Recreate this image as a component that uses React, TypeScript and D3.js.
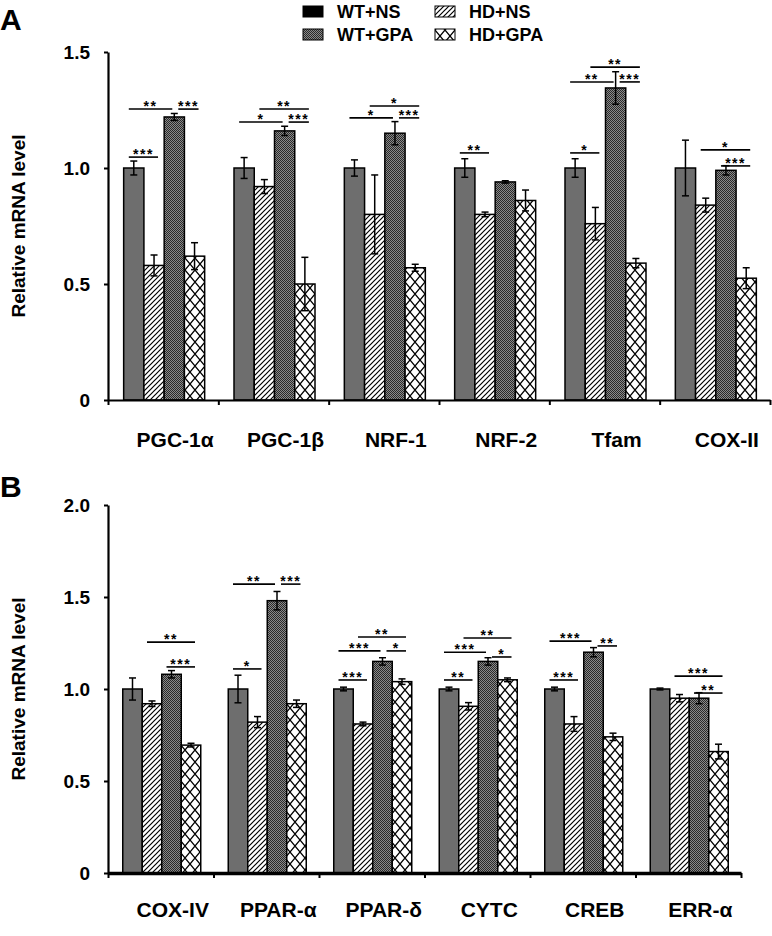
import React, { useEffect, useRef } from 'react';
import * as d3 from 'd3';

const seriesNames = ['WT+NS', 'HD+NS', 'WT+GPA', 'HD+GPA'];
const seriesFills = ['#6e6e6e', 'url(#hatch)', 'url(#dots)', 'url(#cross)'];
const legendFills = ['#000000', 'url(#hatch)', 'url(#dots)', 'url(#cross)'];
const legendRows = [['WT+NS', 'HD+NS'], ['WT+GPA', 'HD+GPA']];

// Panel A
const categoriesA = ['PGC-1α', 'PGC-1β', 'NRF-1', 'NRF-2', 'Tfam', 'COX-II'];
const wtnsA = [1.0, 1.0, 1.0, 1.0, 1.0, 1.0];
const hdnsA = [0.58, 0.92, 0.80, 0.80, 0.76, 0.84];
const wtgpaA = [1.22, 1.16, 1.15, 0.94, 1.345, 0.99];
const hdgpaA = [0.62, 0.50, 0.57, 0.86, 0.59, 0.525];
const wtnsErrA = [0.03, 0.045, 0.035, 0.04, 0.04, 0.12];
const hdnsErrA = [0.045, 0.03, 0.17, 0.01, 0.07, 0.03];
const wtgpaErrA = [0.015, 0.02, 0.05, 0.005, 0.07, 0.02];
const hdgpaErrA = [0.058, 0.115, 0.015, 0.045, 0.02, 0.045];
const ticksA = [0, 0.5, 1.0, 1.5];
// [category, fromSeries, toSeries, level, label]
const sigA: [number, number, number, number, string][] = [
  [0, 0, 1, 1.047, '***'], [0, 0, 2, 1.254, '**'], [0, 2, 3, 1.254, '***'],
  [1, 0, 2, 1.198, '*'], [1, 1, 3, 1.254, '**'], [1, 2, 3, 1.198, '***'],
  [2, 0, 2, 1.216, '*'], [2, 1, 3, 1.267, '*'], [2, 2, 3, 1.216, '***'],
  [3, 0, 1, 1.065, '**'],
  [4, 0, 1, 1.065, '*'], [4, 0, 2, 1.371, '**'], [4, 1, 3, 1.435, '**'], [4, 2, 3, 1.371, '***'],
  [5, 1, 3, 1.078, '*'], [5, 2, 3, 1.009, '***'],
];

// Panel B
const categoriesB = ['COX-IV', 'PPAR-α', 'PPAR-δ', 'CYTC', 'CREB', 'ERR-α'];
const wtnsB = [1.0, 1.0, 1.0, 1.0, 1.0, 1.0];
const hdnsB = [0.92, 0.82, 0.81, 0.906, 0.81, 0.95];
const wtgpaB = [1.08, 1.48, 1.15, 1.15, 1.20, 0.95];
const hdgpaB = [0.695, 0.92, 1.04, 1.05, 0.74, 0.66];
const wtnsErrB = [0.06, 0.075, 0.01, 0.01, 0.01, 0.005];
const hdnsErrB = [0.015, 0.03, 0.01, 0.02, 0.04, 0.02];
const wtgpaErrB = [0.02, 0.05, 0.02, 0.02, 0.025, 0.03];
const hdgpaErrB = [0.01, 0.02, 0.015, 0.01, 0.02, 0.04];
const ticksB = [0, 0.5, 1.0, 1.5, 2.0];
const sigB: [number, number, number, number, string][] = [
  [0, 1, 3, 1.255, '**'], [0, 2, 3, 1.12, '***'],
  [1, 0, 1, 1.109, '*'], [1, 0, 2, 1.57, '**'], [1, 2, 3, 1.57, '***'],
  [2, 0, 1, 1.049, '***'], [2, 0, 2, 1.207, '***'], [2, 1, 3, 1.283, '**'], [2, 2, 3, 1.207, '*'],
  [3, 0, 1, 1.049, '**'], [3, 0, 2, 1.20, '***'], [3, 1, 3, 1.277, '**'], [3, 2, 3, 1.174, '*'],
  [4, 0, 1, 1.049, '***'], [4, 0, 2, 1.26, '***'], [4, 2, 3, 1.234, '**'],
  [5, 1, 3, 1.07, '***'], [5, 2, 3, 0.978, '**'],
];

const FONT = "'Liberation Sans', Arial, sans-serif";

type PanelSpec = {
  letter: string;
  letterY: number;
  categories: string[];
  values: number[][];
  errors: number[][];
  ticks: number[];
  sig: [number, number, number, number, string][];
  yMax: number;
  yBottom: number;
  yTop: number;
  xLeft: number;
  xRight: number;
  groupWidth: number;
  xAxisWidth: number;
  labelY: number;
};

const panels: PanelSpec[] = [
  {
    letter: 'A', letterY: 30,
    categories: categoriesA,
    values: [wtnsA, hdnsA, wtgpaA, hdgpaA],
    errors: [wtnsErrA, hdnsErrA, wtgpaErrA, hdgpaErrA],
    ticks: ticksA, sig: sigA, yMax: 1.5,
    yBottom: 400, yTop: 52, xLeft: 108, xRight: 770, groupWidth: 81, xAxisWidth: 2.2, labelY: 447,
  },
  {
    letter: 'B', letterY: 497,
    categories: categoriesB,
    values: [wtnsB, hdnsB, wtgpaB, hdgpaB],
    errors: [wtnsErrB, hdnsErrB, wtgpaErrB, hdgpaErrB],
    ticks: ticksB, sig: sigB, yMax: 2.0,
    yBottom: 873, yTop: 505, xLeft: 108, xRight: 741, groupWidth: 78, xAxisWidth: 3.5, labelY: 917,
  },
];

export default function App() {
  const ref = useRef<SVGSVGElement | null>(null);

  useEffect(() => {
    const svg = d3.select(ref.current);
    svg.selectAll('*').remove();
    const defs = svg.append('defs');

    const hatch = defs.append('pattern').attr('id', 'hatch').attr('patternUnits', 'userSpaceOnUse')
      .attr('width', 5).attr('height', 5);
    hatch.append('rect').attr('width', 5).attr('height', 5).attr('fill', '#fff');
    hatch.append('path').attr('d', 'M0,5 L5,0 M-1,1 L1,-1 M4,6 L6,4')
      .attr('stroke', '#000').attr('stroke-width', 1.2);

    const cross = defs.append('pattern').attr('id', 'cross').attr('patternUnits', 'userSpaceOnUse')
      .attr('width', 10).attr('height', 12);
    cross.append('rect').attr('width', 10).attr('height', 12).attr('fill', '#fff');
    cross.append('path').attr('d', 'M0,0 L10,12 M10,0 L0,12')
      .attr('stroke', '#000').attr('stroke-width', 1.3);

    const dots = defs.append('pattern').attr('id', 'dots').attr('patternUnits', 'userSpaceOnUse')
      .attr('width', 2).attr('height', 2);
    dots.append('rect').attr('width', 2).attr('height', 2).attr('fill', '#8a8a8a');
    dots.append('rect').attr('x', 0).attr('y', 0).attr('width', 1).attr('height', 1).attr('fill', '#2a2a2a');
    dots.append('rect').attr('x', 1).attr('y', 1).attr('width', 1).attr('height', 1).attr('fill', '#2a2a2a');

    svg.append('rect').attr('width', 772).attr('height', 936).attr('fill', '#fff');

    // Legend
    const legendX = [303, 435];
    const legendY = [5, 28];
    legendRows.forEach((row, r) => {
      row.forEach((name, c) => {
        const si = seriesNames.indexOf(name);
        svg.append('rect').attr('x', legendX[c]).attr('y', legendY[r] + 1)
          .attr('width', 20).attr('height', 11)
          .attr('fill', legendFills[si]).attr('stroke', '#000').attr('stroke-width', 1);
        svg.append('text').attr('x', legendX[c] + 34).attr('y', legendY[r] + 13)
          .attr('font-family', FONT).attr('font-weight', 'bold').attr('font-size', 18)
          .text(name);
      });
    });

    panels.forEach((p) => {
      const g = svg.append('g');
      const y = d3.scaleLinear().domain([0, p.yMax]).range([p.yBottom, p.yTop]);
      const x = d3.scaleBand<string>().domain(p.categories).range([p.xLeft, p.xRight]).padding(0);
      const inner = d3.scaleBand<string>().domain(seriesNames).range([0, p.groupWidth]).padding(0);
      const groupStart = (c: string) => (x(c) as number) + (x.bandwidth() - p.groupWidth) / 2 + 1;
      const bw = inner.bandwidth();
      const center = (ci: number, si: number) =>
        groupStart(p.categories[ci]) + (inner(seriesNames[si]) as number) + bw / 2;

      // panel letter
      svg.append('text').attr('x', 0).attr('y', p.letterY)
        .attr('font-family', FONT).attr('font-weight', 'bold').attr('font-size', 30).text(p.letter);

      // y title
      const midY = (p.yBottom + p.yTop) / 2;
      svg.append('text')
        .attr('transform', `translate(25,${midY}) rotate(-90)`)
        .attr('text-anchor', 'middle')
        .attr('font-family', FONT).attr('font-weight', 'bold').attr('font-size', 19)
        .text('Relative mRNA level');

      // bars
      p.values.forEach((vals, si) => {
        g.selectAll(null).data(vals).enter().append('rect')
          .attr('x', (_d, ci) => groupStart(p.categories[ci]) + (inner(seriesNames[si]) as number))
          .attr('y', (d) => y(d))
          .attr('width', bw)
          .attr('height', (d) => p.yBottom - y(d))
          .attr('fill', seriesFills[si])
          .attr('stroke', '#000').attr('stroke-width', 1.5);
      });

      // error bars
      p.values.forEach((vals, si) => {
        vals.forEach((v, ci) => {
          const e = p.errors[si][ci];
          const cx = center(ci, si);
          const eg = g.append('g').attr('stroke', '#000').attr('stroke-width', 1.5);
          eg.append('line').attr('x1', cx).attr('x2', cx).attr('y1', y(v - e)).attr('y2', y(v + e));
          eg.append('line').attr('x1', cx - 3.5).attr('x2', cx + 3.5).attr('y1', y(v - e)).attr('y2', y(v - e));
          eg.append('line').attr('x1', cx - 3.5).attr('x2', cx + 3.5).attr('y1', y(v + e)).attr('y2', y(v + e));
        });
      });

      // significance
      p.sig.forEach(([ci, a, b, lvl, label]) => {
        const near = p.sig.filter((s) => s[0] === ci && Math.abs(s[3] - lvl) < 0.05);
        let x1 = center(ci, a) - 5;
        let x2 = center(ci, b) + 4;
        if (near.some((s) => s[2] === a)) x1 = center(ci, a) + 4;
        if (near.some((s) => s[1] === b)) x2 = center(ci, b) - 2;
        const ly = y(lvl);
        g.append('line').attr('x1', x1).attr('x2', x2).attr('y1', ly).attr('y2', ly)
          .attr('stroke', '#000').attr('stroke-width', 1.6);
        g.append('text').attr('x', (x1 + x2) / 2).attr('y', ly + 2)
          .attr('text-anchor', 'middle')
          .attr('font-family', FONT).attr('font-weight', 'bold').attr('font-size', 14)
          .attr('letter-spacing', 1.5)
          .text(label);
      });

      // y axis
      const yAxis = d3.axisLeft(y).tickValues(p.ticks).tickSize(4).tickSizeOuter(0).tickPadding(14)
        .tickFormat((d) => (+d === 0 ? '0' : d3.format('.1f')(+d)));
      const ya = svg.append('g').attr('transform', `translate(${p.xLeft},0)`).call(yAxis);
      ya.select('.domain').attr('stroke', '#000').attr('stroke-width', 2.2);
      ya.selectAll('.tick line').attr('stroke', '#000').attr('stroke-width', 2);
      ya.selectAll('.tick text').attr('font-family', FONT).attr('font-weight', 'bold')
        .attr('font-size', 19).attr('fill', '#000');

      // x axis (category boundaries)
      const xb = d3.scaleLinear().domain([0, p.categories.length]).range([p.xLeft, p.xRight]);
      const xAxis = d3.axisBottom(xb).tickValues(d3.range(p.categories.length + 1))
        .tickSize(5).tickSizeOuter(0).tickFormat(() => '');
      const xa = svg.append('g').attr('transform', `translate(0,${p.yBottom})`).call(xAxis);
      xa.select('.domain').attr('stroke', '#000').attr('stroke-width', p.xAxisWidth);
      xa.selectAll('.tick line').attr('stroke', '#000').attr('stroke-width', 2);

      // category labels
      p.categories.forEach((c) => {
        svg.append('text').attr('x', (x(c) as number) + x.bandwidth() / 2 + 12).attr('y', p.labelY)
          .attr('text-anchor', 'middle')
          .attr('font-family', FONT).attr('font-weight', 'bold').attr('font-size', 21)
          .text(c);
      });
    });
  }, []);

  return (
    <svg ref={ref} width={772} height={936} style={{ position: 'absolute', left: 0, top: 0 }} />
  );
}
